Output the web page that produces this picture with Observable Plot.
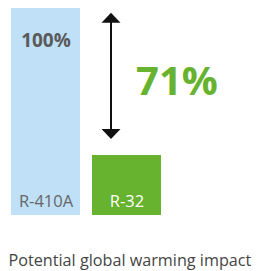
<!DOCTYPE html>
<html>
<head>
<meta charset="utf-8">
<script src="https://cdn.jsdelivr.net/npm/d3@7"></script>
<script src="https://cdn.jsdelivr.net/npm/@observablehq/plot@0.6"></script>
<style>
  html, body { margin: 0; padding: 0; background: #fff; }
  #chart svg { display: block; }
</style>
</head>
<body>
<div id="chart"></div>
<script>
// ---- data ----
const refrigerants = ["R-410A", "R-32"];
const impact = [100, 29];
const valueLabels = ["100%", ""];
const reductionLabel = "71%";
const arrowFrom = 98;
const arrowTo = 37;
const captionText = "Potential global warming impact";

const bars = refrigerants.map((r, i) => ({name: r, value: impact[i], label: valueLabels[i]}));

const blue = "#bfe0f7";
const green = "#67b22f";

function triangle(up) {
  return {
    draw(context) {
      const w = 9.5, h = 10;
      const s = up ? 1 : -1;
      context.moveTo(0, 0);
      context.lineTo(-w, s * h);
      context.lineTo(w, s * h);
      context.closePath();
    }
  };
}

const chart = Plot.plot({
  width: 257,
  height: 271,
  marginTop: 8,
  marginBottom: 56,
  marginLeft: 10,
  marginRight: 95,
  style: {fontFamily: "'Open Sans', sans-serif", background: "#fff"},
  x: {domain: refrigerants, paddingInner: 0.146, paddingOuter: 0, axis: null},
  y: {domain: [0, 100], axis: null},
  marks: [
    Plot.barY(bars, {x: "name", y: "value", fill: (d, i) => i === 0 ? blue : green}),
    Plot.text(bars, {x: "name", y: 0, text: "name", dy: -9, lineAnchor: "bottom",
      fill: (d, i) => i === 0 ? "#666666" : "#ffffff", fontSize: 16.5}),
    Plot.text(bars, {x: "name", y: "value", text: "label", dy: 32, fill: "#5a5a5a",
      fontSize: 19, fontWeight: "bold"}),
    Plot.ruleX([{x: refrigerants[1], y1: arrowFrom, y2: arrowTo}],
      {x: "x", y1: "y1", y2: "y2", dx: -16, stroke: "#111", strokeWidth: 2, insetTop: 8, insetBottom: 8}),
    Plot.dot([{x: refrigerants[1], y: arrowFrom}], {x: "x", y: "y", dx: -16, symbol: triangle(true), fill: "#111", stroke: null, r: 5}),
    Plot.dot([{x: refrigerants[1], y: arrowTo}], {x: "x", y: "y", dx: -16, symbol: triangle(false), fill: "#111", stroke: null, r: 5}),
    Plot.text([{x: refrigerants[1], y: (impact[0] + impact[1]) / 2, t: reductionLabel}],
      {x: "x", y: "y", text: "t", dx: 50, fill: green, fontSize: 40, fontWeight: "bold"}),
    Plot.text([captionText], {frameAnchor: "bottom-left", text: d => d, dx: -2, dy: 50,
      lineAnchor: "bottom", textAnchor: "start", fill: "#444444", fontSize: 16.2})
  ]
});
document.getElementById("chart").append(chart);
</script>
</body>
</html>
